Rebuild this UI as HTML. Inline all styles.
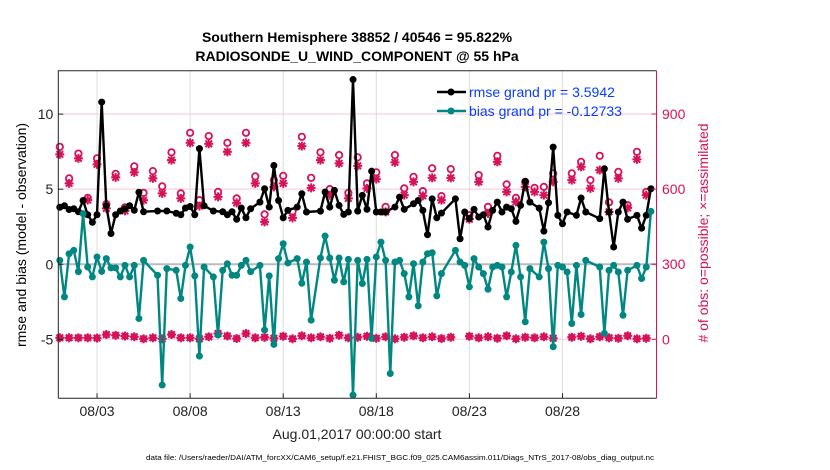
<!DOCTYPE html>
<html><head><meta charset="utf-8"><style>
html,body{margin:0;padding:0;background:#fff;}
svg{display:block;font-family:"Liberation Sans",Arial,sans-serif;}
</style></head><body>
<svg id="chart" width="830" height="470" viewBox="0 0 830 470" xmlns="http://www.w3.org/2000/svg">
<rect x="0" y="0" width="830" height="470" fill="#fff"/>
<text x="357" y="42" text-anchor="middle" font-size="14" font-weight="bold" fill="#000">Southern Hemisphere 38852 / 40546 = 95.822%</text>
<text x="357" y="61" text-anchor="middle" font-size="14" font-weight="bold" fill="#000">RADIOSONDE_U_WIND_COMPONENT @ 55 hPa</text>
<g id="grid"></g>
<g id="series"></g>
<g id="axes"></g>
<text transform="translate(26,235) rotate(-90)" text-anchor="middle" font-size="14" fill="#000">rmse and bias (model - observation)</text>
<text transform="translate(708,233) rotate(-90)" text-anchor="middle" font-size="14" fill="#d6125a"># of obs: o=possible; ×=assimilated</text>
<text x="357" y="439" text-anchor="middle" font-size="14" fill="#222">Aug.01,2017 00:00:00 start</text>
<text x="146" y="460" font-size="7.5" fill="#000" textLength="508" lengthAdjust="spacingAndGlyphs">data file: /Users/raeder/DAI/ATM_forcXX/CAM6_setup/f.e21.FHIST_BGC.f09_025.CAM6assim.011/Diags_NTrS_2017-08/obs_diag_output.nc</text>
<g id="legend">
<line x1="437" y1="92" x2="466" y2="92" stroke="#000" stroke-width="2.5"/>
<circle cx="451" cy="92" r="3.5" fill="#000"/>
<text x="469" y="97" font-size="14" fill="#0a3cff">rmse grand pr = 3.5942</text>
<line x1="437" y1="111" x2="466" y2="111" stroke="#008782" stroke-width="2.5"/>
<circle cx="451" cy="111" r="3.5" fill="#008782"/>
<text x="469" y="116" font-size="14" fill="#0a3cff">bias grand pr = -0.12733</text>
</g>
</svg>
<script>
// ---- data (6-hourly rmse / bias, 12-hourly obs counts) ----
const tickLabels = ["08/03","08/08","08/13","08/18","08/23","08/28"];
const tickDays = [2,7,12,17,22,27];
const leftTicks = [-5,0,5,10];
const rightTicks = [0,300,600,900];
const rmse = [3.8,3.9,3.65,3.7,3.5,4.25,3.3,2.8,3.3,10.8,3.9,2.05,3.3,3.55,3.7,3.9,3.6,4.8,3.5,null,null,3.55,null,3.55,null,3.4,3.3,3.75,3.85,3.3,7.7,3.9,null,3.55,null,3.5,3.3,3.5,3.0,3.75,3.1,3.7,null,4.14,5.03,3.81,6.58,4.25,3.10,3.59,null,3.81,4.70,3.48,null,null,3.54,4.81,3.81,4.92,3.92,3.32,3.48,12.3,3.54,4.59,3.66,6.20,3.48,3.48,3.48,null,3.81,4.47,3.66,null,4.03,4.25,3.59,1.97,4.36,3.10,3.41,null,null,4.36,1.70,3.48,3.04,3.66,3.15,3.30,2.48,3.59,4.14,3.48,3.81,3.70,2.86,3.92,5.52,4.14,null,3.74,2.21,4.10,7.80,3.26,2.70,3.48,null,3.26,4.41,3.48,null,null,3.04,6.36,3.48,1.15,3.48,4.14,3.00,null,3.26,2.41,3.26,5.03,null];
const bias = [0.26,-2.17,0.70,0.93,-0.49,3.37,-0.18,-0.84,0.49,-0.47,0.38,-0.24,-0.24,-0.84,-0.07,-0.84,-0.07,-3.61,0.26,null,null,-0.73,-8.04,-0.29,null,-0.40,-2.28,-0.07,1.15,-0.77,-6.11,-0.18,null,-0.84,-4.71,-0.40,0.04,-0.73,-0.73,-0.07,0.26,-0.49,null,-0.07,-4.38,-0.77,-5.33,0.38,1.37,0.09,null,0.38,-1.26,0.15,-3.72,null,0.42,1.88,0.42,-1.06,0.42,-1.17,0.33,-8.71,0.26,-1.28,0.33,-4.93,0.49,1.48,0.26,-7.27,0.15,0.26,-0.62,-2.17,0.04,-2.77,0.15,0.70,0.77,-2.10,-0.62,null,null,0.93,0.15,-0.07,-1.5,0.38,-0.18,-0.62,-1.66,-0.18,-0.07,-0.18,-2.17,-0.51,1.26,-0.84,-3.83,-0.29,null,-0.84,1.48,-0.29,-5.49,-0.07,-0.18,-0.51,-3.94,-0.07,-3.34,0.26,null,null,-0.18,-4.60,-0.40,-0.07,-0.51,-3.39,-0.40,null,-0.07,-0.95,-0.18,3.52,null];
const nPossible = [769,643,742,565,723,540,661,527,691,585,672,611,747,583,825,556,812,589,785,563,825,651,499,636,653,510,809,645,747,600,736,585,727,623,667,529,736,603,649,592,683,572,680,null,496,656,529,733,619,565,629,605,609,663,null,663,709,636,733,547,669,536,749,589];
const nAssim = [739,623,723,556,699,523,647,513,667,556,643,583,716,563,785,532,781,569,749,545,785,623,469,609,623,485,772,605,716,576,703,563,693,603,640,509,707,576,629,573,645,556,645,null,480,629,503,709,589,549,609,589,576,629,null,636,689,603,676,509,643,525,719,576];
const nLow = [6,6,6,6,5,19,16,13,10,2,6,2,19,6,6,2,10,23,13,3,23,6,8,4,12,2,14,6,10,4,16,6,8,12,4,10,2,8,14,6,10,3,8,null,12,6,10,4,14,2,8,6,10,4,null,8,12,2,10,6,4,14,2,4];

// ---- axes ----
const PL=58.3, PR=656.5, PT=70.7, PB=398.3;
const D0=-0.08, D1=32.05;
function xDay(d){return PL+(d-D0)/(D1-D0)*(PR-PL);}
function yL(v){return 264.3-v*15.02;}
function yR(c){return 339.3-c*0.2503;}
const NS="http://www.w3.org/2000/svg";
function mk(tag,attrs,parent){const e=document.createElementNS(NS,tag);for(const k in attrs)e.setAttribute(k,attrs[k]);parent.appendChild(e);return e;}
const grid=document.getElementById('grid'), axes=document.getElementById('axes'), ser=document.getElementById('series');
const PINK="#d6125a", TEAL="#008782";

tickDays.forEach((d,i)=>{
  const x=xDay(d);
  const gl=mk('line',{x1:x,y1:PT,x2:x,y2:PB,stroke:"#dedede","stroke-width":1},grid);
  
  
  const tk=mk('line',{x1:x,y1:PB,x2:x,y2:PB-5,stroke:"#222","stroke-width":1},axes);
  
  
  const t=mk('text',{x:x,y:416,"text-anchor":"middle","font-size":14,fill:"#222"},axes);
  t.textContent=tickLabels[i];
  
  
});
rightTicks.forEach(c=>{
  const y=yR(c);
  if(c!==300){
    const gl=mk('line',{x1:PL,y1:y,x2:PR,y2:y,stroke:"#f6c8d8","stroke-width":1},grid);
    
    
  }
  const tk=mk('line',{x1:PR,y1:y,x2:PR-5,y2:y,stroke:PINK,"stroke-width":1},axes);
  
  
  const t=mk('text',{x:662,y:y+5,"font-size":14,fill:PINK},axes);
  t.textContent=String(c);
  
  
});
const zl=mk('line',{x1:PL,y1:yL(0),x2:PR,y2:yL(0),stroke:"#bbbbbb","stroke-width":2},grid);


leftTicks.forEach(v=>{
  const y=yL(v);
  const tk=mk('line',{x1:PL,y1:y,x2:PL+5,y2:y,stroke:"#222","stroke-width":1},axes);
  
  
  const t=mk('text',{x:PL-5,y:y+5,"text-anchor":"end","font-size":14,fill:"#222"},axes);
  t.textContent=String(v);
  
  
});
const fl=mk('path',{d:`M${PL},${PB}V${PT}H${PR}`,fill:"none",stroke:"#222","stroke-width":1},axes);


const fb=mk('line',{x1:PL,y1:PB,x2:PR,y2:PB,stroke:"#222","stroke-width":1},axes);


const fr=mk('line',{x1:PR,y1:PT,x2:PR,y2:PB,stroke:PINK,"stroke-width":1},axes);



// ---- counts ----
function asterisk(x,y,name){
  const g=mk('g',{stroke:PINK,"stroke-width":2},ser);
  
  
  const r=4.5;
  mk('line',{x1:x-r,y1:y,x2:x+r,y2:y},g);
  mk('line',{x1:x,y1:y-r,x2:x,y2:y+r},g);
  mk('line',{x1:x-3.3,y1:y-3.3,x2:x+3.3,y2:y+3.3},g);
  mk('line',{x1:x-3.3,y1:y+3.3,x2:x+3.3,y2:y-3.3},g);
}
for(let j=0;j<nPossible.length;j++){
  const x=xDay(j*0.5);
  if(nPossible[j]!==null){
    const c=mk('circle',{cx:x,cy:yR(nPossible[j]),r:3.2,fill:"none",stroke:PINK,"stroke-width":1.8},ser);
    
    
  }
  if(nAssim[j]!==null) asterisk(x,yR(nAssim[j]),'assimilated-count-marker');
  if(nLow[j]!==null){
    const y=yR(nLow[j]);
    const c=mk('circle',{cx:x,cy:y,r:3.6,fill:PINK},ser);
    
    
    asterisk(x,y,'low-count-asterisk');
  }
}

// ---- rmse & bias lines ----
function drawSeries(vals,color,name){
  let d="";
  vals.forEach((v,i)=>{ if(v===null) return; d+=(d?"L":"M")+xDay(i*0.25).toFixed(1)+","+yL(v).toFixed(1);});
  const p=mk('path',{d:d,fill:"none",stroke:color,"stroke-width":2.4,"stroke-linejoin":"round"},ser);
  
  
  vals.forEach((v,i)=>{ if(v===null) return;
    const c=mk('circle',{cx:xDay(i*0.25),cy:yL(v),r:3.5,fill:color},ser);
    
    
  });
}
drawSeries(rmse,"#000",'rmse');
drawSeries(bias,TEAL,'bias');
</script>
</body></html>
